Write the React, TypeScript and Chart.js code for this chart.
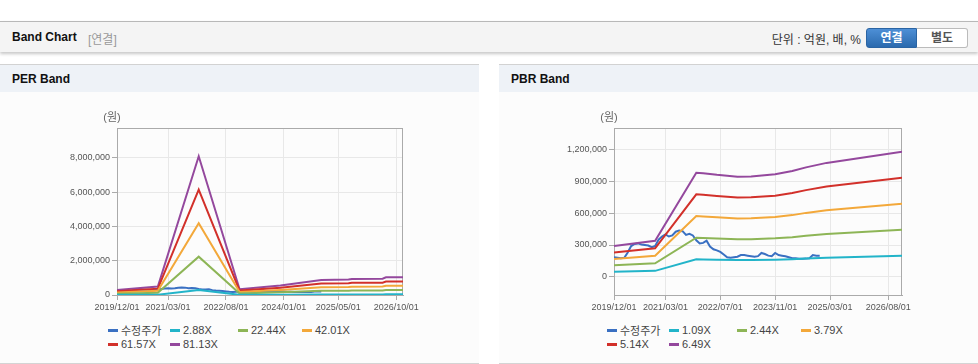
import React, { useEffect, useRef } from 'react';
import { Chart, registerables } from 'chart.js';
Chart.register(...registerables);

// ---------- data ----------
const perLegend = ['수정주가', '2.88X', '22.44X', '42.01X', '61.57X', '81.13X'];
const pbrLegend = ['수정주가', '1.09X', '2.44X', '3.79X', '5.14X', '6.49X'];
const seriesColors = ['#3a70c2', '#22b4c9', '#8db556', '#f3a83a', '#d2302a', '#94489d'];

// adjusted price, one value per month from 2019/12
const priceValues = [
  185000, 180000, 175000, 180000, 230000, 290000, 310000, 315000, 305000, 300000,
  295000, 280000, 290000, 350000, 380000, 400000, 380000, 390000, 425000, 435000,
  430000, 395000, 405000, 390000, 345000, 315000, 320000, 340000, 285000, 260000,
  250000, 235000, 210000, 185000, 180000, 185000, 190000, 205000, 205000, 200000,
  195000, 190000, 195000, 225000, 215000, 200000, 195000, 225000, 205000, 200000,
  195000, 185000, 175000, 175000, 170000, 170000, 172000, 175000, 205000, 200000, 200000,
];

// PER band vertices (month index from 2019/12)
const perBandMonths = [0, 12, 24, 36, 48, 60, 68, 69, 78, 79, 84];
const per288 = [10000, 17000, 288000, 12000, 20000, 31000, 32000, 33000, 34000, 37000, 37000];
const per2244 = [80000, 136000, 2240000, 94000, 155000, 243000, 249000, 260000, 263000, 285000, 285000];
const per4201 = [150000, 254000, 4190000, 176000, 290000, 456000, 466000, 487000, 492000, 534000, 534000];
const per6157 = [220000, 372000, 6150000, 258000, 425000, 668000, 683000, 713000, 721000, 782000, 782000];
const per8113 = [290000, 490000, 8100000, 340000, 560000, 880000, 900000, 940000, 950000, 1030000, 1030000];

// PBR band vertices
const pbrBandMonths = [0, 12, 24, 26, 30, 36, 40, 47, 52, 56, 62, 84];
const pbr109 = [49000, 57000, 165000, 164000, 161000, 158000, 159000, 162000, 167000, 173000, 180000, 198000];
const pbr244 = [109000, 128000, 368000, 367000, 361000, 354000, 355000, 363000, 374000, 387000, 403000, 443000];
const pbr379 = [169000, 199000, 572000, 569000, 561000, 550000, 552000, 564000, 581000, 602000, 626000, 688000];
const pbr514 = [230000, 269000, 776000, 772000, 760000, 746000, 748000, 764000, 788000, 816000, 849000, 933000];
const pbr649 = [290000, 340000, 980000, 975000, 960000, 942000, 945000, 965000, 995000, 1030000, 1072000, 1178000];

// x-axis ticks
const perTickMonths = [0, 15, 32, 49, 65, 82];
const perTickLabels = ['2019/12/01', '2021/03/01', '2022/08/01', '2024/01/01', '2025/05/01', '2026/10/01'];
const pbrTickMonths = [0, 15, 31, 47, 63, 80];
const pbrTickLabels = ['2019/12/01', '2021/03/01', '2022/07/01', '2023/11/01', '2025/03/01', '2026/08/01'];
const monthCount = 84;

// y-axis ticks
const perYTicks = [0, 2000000, 4000000, 6000000, 8000000];
const pbrYTicks = [0, 300000, 600000, 900000, 1200000];

const FONT = '"Liberation Sans", Arial, "Noto Sans CJK KR", sans-serif';

type Series = { months: number[]; values: number[] };

const framePlugin = {
  id: 'frame',
  beforeDatasetsDraw(chart: any) {
    const { ctx, chartArea: a } = chart;
    ctx.save();
    ctx.strokeStyle = '#aaaaaa';
    ctx.lineWidth = 1;
    ctx.strokeRect(a.left + 0.5, a.top + 0.5, a.right - a.left - 1, a.bottom - a.top);
    ctx.restore();
  },
  afterDraw(chart: any) {
    const { ctx, chartArea: a } = chart;
    ctx.save();
    ctx.fillStyle = '#666';
    ctx.font = '11px ' + FONT;
    ctx.textAlign = 'center';
    ctx.textBaseline = 'middle';
    ctx.fillText('(원)', a.left - 5, a.top - 10);
    ctx.restore();
  },
};

function BandChart(props: {
  legend: string[];
  series: Series[];
  tickMonths: number[];
  tickLabels: string[];
  yMin: number;
  yMax: number;
  yTicks: number[];
  yWidth: number;
}) {
  const ref = useRef<HTMLCanvasElement>(null);
  useEffect(() => {
    const { legend, series, tickMonths, tickLabels, yMin, yMax, yTicks, yWidth } = props;
    const tickFont = { family: FONT, size: 9 };
    const chart = new Chart(ref.current!, {
      type: 'line',
      data: {
        datasets: series.map((s, i) => ({
          label: legend[i],
          data: s.months.map((m, j) => ({ x: m, y: s.values[j] })),
          borderColor: seriesColors[i],
          backgroundColor: seriesColors[i],
          borderWidth: 2,
          pointRadius: 0,
          tension: 0,
          fill: false,
          order: i === 0 ? 10 : 0,
        })),
      },
      options: {
        animation: false,
        responsive: false,
        maintainAspectRatio: false,
        layout: { padding: { top: 36, right: 76, left: 0, bottom: 0 } },
        plugins: { legend: { display: false }, tooltip: { enabled: false } },
        scales: {
          x: {
            type: 'linear',
            min: 0,
            max: monthCount,
            afterBuildTicks: (ax: any) => {
              ax.ticks = tickMonths.map((v) => ({ value: v }));
            },
            afterFit: (ax: any) => {
              ax.height = 22;
            },
            ticks: {
              autoSkip: false,
              maxRotation: 0,
              padding: 2,
              color: '#555',
              font: tickFont,
              callback: (v: any) => {
                const k = tickMonths.indexOf(Number(v));
                return k >= 0 ? tickLabels[k] : '';
              },
            },
            grid: { color: '#e8e8e8', tickColor: '#aaa', tickLength: 5 },
            border: { color: '#aaa' },
          },
          y: {
            type: 'linear',
            min: yMin,
            max: yMax,
            afterBuildTicks: (ax: any) => {
              ax.ticks = yTicks.map((v) => ({ value: v }));
            },
            afterFit: (ax: any) => {
              ax.width = yWidth;
            },
            ticks: {
              padding: 2,
              color: '#555',
              font: tickFont,
              callback: (v: any) => Number(v).toLocaleString('en-US'),
            },
            grid: { color: '#e8e8e8', tickColor: '#aaa', tickLength: 5 },
            border: { color: '#aaa' },
          },
        },
      },
      plugins: [framePlugin],
    } as any);
    return () => chart.destroy();
  }, []);
  return <canvas ref={ref} width={479} height={225} style={{ display: 'block', width: 479, height: 225 }} />;
}

function Legend({ labels }: { labels: string[] }) {
  return (
    <div
      style={{
        position: 'absolute',
        left: 108,
        top: 323,
        display: 'grid',
        gridTemplateColumns: '62px 68px 64px 64px',
        gridAutoRows: '14px',
        fontFamily: FONT,
        fontSize: 11,
        color: '#444',
      }}
    >
      {labels.map((l, i) => (
        <div key={l} style={{ display: 'flex', alignItems: 'center', whiteSpace: 'nowrap' }}>
          <span style={{ display: 'inline-block', width: 10, height: 3, background: seriesColors[i], marginRight: 3 }} />
          <span>{l}</span>
        </div>
      ))}
    </div>
  );
}

function Panel(props: { left: number; title: string; children: React.ReactNode }) {
  return (
    <div
      style={{
        position: 'absolute',
        left: props.left,
        top: 64,
        width: 479,
        height: 298,
        background: '#fcfcfc',
        borderTop: '1px solid #d2d2d2',
        borderBottom: '1px solid #d4d4d4',
      }}
    >
      <div
        style={{
          height: 27,
          background: '#eef2f7',
          fontFamily: FONT,
          fontWeight: 'bold',
          fontSize: 12,
          color: '#111',
          lineHeight: '28px',
          paddingLeft: 12,
        }}
      >
        {props.title}
      </div>
      {props.children}
    </div>
  );
}

export default function App() {
  useEffect(() => {
    document.body.style.margin = '0';
  }, []);

  const perSeries: Series[] = [
    { months: priceValues.map((_, i) => i), values: priceValues },
    { months: perBandMonths, values: per288 },
    { months: perBandMonths, values: per2244 },
    { months: perBandMonths, values: per4201 },
    { months: perBandMonths, values: per6157 },
    { months: perBandMonths, values: per8113 },
  ];
  const pbrSeries: Series[] = [
    { months: priceValues.map((_, i) => i), values: priceValues },
    { months: pbrBandMonths, values: pbr109 },
    { months: pbrBandMonths, values: pbr244 },
    { months: pbrBandMonths, values: pbr379 },
    { months: pbrBandMonths, values: pbr514 },
    { months: pbrBandMonths, values: pbr649 },
  ];

  return (
    <div style={{ position: 'relative', width: 978, height: 364, background: '#fff', overflow: 'hidden' }}>
      <div
        style={{
          position: 'absolute',
          top: 21,
          left: 0,
          width: 978,
          height: 30,
          borderTop: '1px solid #b8b8b8',
          background: '#f4f4f4',
          boxShadow: '0 2px 3px rgba(0,0,0,0.22)',
          fontFamily: FONT,
          fontSize: 12,
        }}
      >
        <span style={{ position: 'absolute', left: 12, top: 8, fontWeight: 'bold', color: '#111' }}>Band Chart</span>
        <span style={{ position: 'absolute', left: 88, top: 8, color: '#999' }}>[연결]</span>
        <span style={{ position: 'absolute', right: 117, top: 8, color: '#333' }}>단위 : 억원, 배, %</span>
        <div
          style={{
            position: 'absolute',
            left: 866,
            top: 6,
            width: 51,
            height: 20,
            boxSizing: 'border-box',
            background: 'linear-gradient(#4d8fd6, #2b6aae)',
            border: '1px solid #2a64a3',
            borderRadius: '3px 0 0 3px',
            color: '#fff',
            fontWeight: 'bold',
            textAlign: 'center',
            lineHeight: '18px',
          }}
        >
          연결
        </div>
        <div
          style={{
            position: 'absolute',
            left: 917,
            top: 6,
            width: 51,
            height: 20,
            boxSizing: 'border-box',
            background: '#fff',
            border: '1px solid #bbb',
            borderLeft: 'none',
            borderRadius: '0 3px 3px 0',
            color: '#555',
            fontWeight: 'bold',
            textAlign: 'center',
            lineHeight: '18px',
          }}
        >
          별도
        </div>
      </div>

      <Panel left={0} title="PER Band">
        <BandChart
          legend={perLegend}
          series={perSeries}
          tickMonths={perTickMonths}
          tickLabels={perTickLabels}
          yMin={0}
          yMax={9750000}
          yTicks={perYTicks}
          yWidth={117}
        />
      </Panel>
      <Panel left={499} title="PBR Band">
        <BandChart
          legend={pbrLegend}
          series={pbrSeries}
          tickMonths={pbrTickMonths}
          tickLabels={pbrTickLabels}
          yMin={-170000}
          yMax={1400000}
          yTicks={pbrYTicks}
          yWidth={115}
        />
      </Panel>
      <div style={{ position: 'absolute', left: 0, top: 0 }}>
        <div style={{ position: 'absolute', left: 0, top: 0 }}>
          <Legend labels={perLegend} />
        </div>
        <div style={{ position: 'absolute', left: 499, top: 0 }}>
          <Legend labels={pbrLegend} />
        </div>
      </div>
    </div>
  );
}
